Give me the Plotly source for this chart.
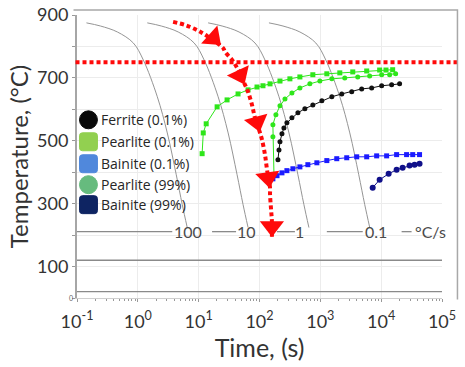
import math
import plotly.graph_objects as go

# ---------------- data ----------------
# cooling curves (time in s, temperature in °C)
cool_T = [875, 865, 846, 811, 757, 640, 525, 392, 297, 224]
cool_t_100 = [0.143, 0.243, 0.461, 0.843, 1.23, 2.09, 3.05, 4.28, 5.37, 6.49]
cool_t_10 = [1.43, 2.43, 4.61, 8.43, 12.3, 20.9, 30.5, 42.8, 53.7, 64.9]
cool_t_1 = [14.3, 24.3, 46.1, 84.3, 123, 209, 305, 428, 537, 649]
cool_t_01 = [143, 243, 461, 843, 1230, 2090, 3050, 4280, 5370, 6490]

rate_labels = ["100", "10", "1", "0.1", "°C/s"]
rate_label_t = [6.7, 60, 460, 8100, 65000]
rate_label_T = 211
rate_line_t = [0.1, 3.68, None, 16.6, 41.2, None, 194, 382, None, 1279, 4977, None, 21680, 31620]
rate_line_T = [211, 211, None, 211, 211, None, 211, 211, None, 211, 211, None, 211, 211]

low_lines_T = [120, 20]
time_span = [0.1, 100000]

# transformation start curves
pearlite01_t = [11.4, 11.9, 13.3, 20.1, 29.3, 44.4, 64.8, 91, 114, 149, 217, 316, 461, 753, 1279,
                2089, 3412, 5781, 9441, 12000, 15450]
pearlite01_T = [459, 525, 554, 608, 630, 649, 662, 671, 675, 681, 690, 697, 703, 710, 713,
                716, 719, 722, 725, 725, 726]

pearlite99_t = [173, 166, 166, 186, 217, 262, 341, 461, 673, 982, 1545, 2523, 4120, 6471, 10190,
                13770, 17290]
pearlite99_T = [392, 513, 551, 583, 611, 633, 652, 668, 681, 690, 697, 700, 703, 706, 710,
                710, 713]

ferrite01_t = [201, 209, 217, 234, 252, 282, 341, 428, 557, 753, 1059, 1545, 2251, 3283, 4783,
               6979, 10190, 14860, 20090]
ferrite01_T = [440, 471, 497, 522, 541, 557, 573, 589, 602, 614, 627, 640, 649, 656, 665,
               668, 675, 678, 681]

bainite01_t = [166, 194, 234, 282, 354, 461, 624, 877, 1279, 1862, 2716, 3963, 5781, 8433, 12300,
               17950, 26180, 33000, 42760]
bainite01_T = [379, 389, 398, 405, 411, 417, 424, 430, 437, 443, 446, 449, 449, 452, 452,
               456, 456, 456, 456]

bainite99_t = [7256, 9441, 13270, 17950, 22510, 29310, 35400, 42760]
bainite99_T = [351, 376, 395, 408, 414, 421, 424, 427]

# red cooling path with arrows
path_t = [3.8, 6.0, 9.4, 13.8, 25.2, 27.2, 35.4, 42.8, 57.8, 64.7, 75.3, 84.3, 102, 110, 123,
          133, 149, 149, 155, 160, 160]
path_T = [878, 868, 852, 833, 795, 783, 757, 732, 678, 656, 614, 573, 525, 503, 456,
          408, 350, 329, 281, 243, 195]
arrow_t = [17.3, 47.9, 91, 138, 160]
arrow_T = [827, 709, 560, 383, 227]
arrow_angle = [-48, -25, -15, -8, 0]

A1_T = 750

legend_labels = ["Ferrite (0.1%)", "Pearlite (0.1%)", "Bainite (0.1%)", "Pearlite (99%)", "Bainite (99%)"]

x_tickvals = [0.1, 1, 10, 100, 1000, 10000, 100000]
x_ticktext = ["10<sup>-1</sup>", "10<sup>0</sup>", "10<sup>1</sup>", "10<sup>2</sup>",
              "10<sup>3</sup>", "10<sup>4</sup>", "10<sup>5</sup>"]
y_tickvals = [100, 300, 500, 700, 900]
y_ticktext = ["100", "300", "500", "700", "900"]

# ---------------- layout geometry ----------------
W, H = 465, 367
L, R = 76.5, 442.5     # plot area pixel edges
T_PX, B_PX = 15, 298.5
PW, PH = R - L, B_PX - T_PX


def px(x):
    return (x - L) / PW


def py(y):
    return (B_PX - y) / PH


def rounded_rect(cx, cy, s, r):
    x0, x1, y0, y1 = cx - s, cx + s, cy - s, cy + s
    pts = [
        f"M {px(x0 + r)},{py(y0)}",
        f"L {px(x1 - r)},{py(y0)}",
        f"Q {px(x1)},{py(y0)} {px(x1)},{py(y0 + r)}",
        f"L {px(x1)},{py(y1 - r)}",
        f"Q {px(x1)},{py(y1)} {px(x1 - r)},{py(y1)}",
        f"L {px(x0 + r)},{py(y1)}",
        f"Q {px(x0)},{py(y1)} {px(x0)},{py(y1 - r)}",
        f"L {px(x0)},{py(y0 + r)}",
        f"Q {px(x0)},{py(y0)} {px(x0 + r)},{py(y0)} Z",
    ]
    return " ".join(pts)


FONT = "Lato"
fig = go.Figure()

gray = "#959595"
for ct in [cool_t_100, cool_t_10, cool_t_1, cool_t_01]:
    fig.add_trace(go.Scatter(x=ct, y=cool_T, mode="lines", line=dict(color=gray, width=1, shape="spline"),
                             showlegend=False, hoverinfo="skip"))

fig.add_trace(go.Scatter(x=rate_line_t, y=rate_line_T, mode="lines", line=dict(color="#8a8a8a", width=1.3),
                         showlegend=False, hoverinfo="skip"))
for lt in low_lines_T:
    fig.add_trace(go.Scatter(x=time_span, y=[lt, lt], mode="lines", line=dict(color="#8a8a8a", width=1.3),
                             showlegend=False, hoverinfo="skip"))

series = [
    (pearlite01_t, pearlite01_T, "#2ee61a", "square", 5),
    (pearlite99_t, pearlite99_T, "#2ee61a", "circle", 5),
    (ferrite01_t, ferrite01_T, "#111111", "circle", 5),
    (bainite01_t, bainite01_T, "#1b1bff", "square", 5),
    (bainite99_t, bainite99_T, "#10108a", "circle", 6),
]
for st, sT, col, sym, sz in series:
    fig.add_trace(go.Scatter(x=st, y=sT, mode="lines+markers",
                             line=dict(color=col, width=1),
                             marker=dict(color=col, symbol=sym, size=sz, line=dict(width=0)),
                             showlegend=False, hoverinfo="skip"))

red = "#ff0a0a"
fig.add_trace(go.Scatter(x=path_t, y=path_T, mode="lines",
                         line=dict(color=red, width=4, dash="4px,3px", shape="spline"),
                         showlegend=False, hoverinfo="skip"))
fig.add_trace(go.Scatter(x=arrow_t, y=arrow_T, mode="markers",
                         marker=dict(color=red, symbol="triangle-down", size=21, angle=arrow_angle,
                                     line=dict(width=0)),
                         showlegend=False, hoverinfo="skip"))

shapes = []
# red horizontal dotted line
shapes.append(dict(type="line", xref="paper", yref="y", x0=px(75), x1=px(458), y0=A1_T, y1=A1_T,
                   line=dict(color=red, width=4, dash="4px,3px")))
# frame (top + right)
shapes.append(dict(type="path", xref="paper", yref="paper",
                   path=f"M {px(73)},{py(10)} L {px(458)},{py(10)} L {px(458)},{py(300)}",
                   line=dict(color="#a8a8a8", width=1.5)))

# manual legend
leg_y = [120, 142, 164, 185, 205]
leg_cols = ["#0a0a0a", "#92d050", "#5088dc", "#66bb7e", "#0e2462"]
leg_shape = ["circle", "rect", "rect", "circle", "rect"]
annotations = []
for lab, yy, col, shp in zip(legend_labels, leg_y, leg_cols, leg_shape):
    s = 9
    if shp == "circle":
        shapes.append(dict(type="circle", xref="paper", yref="paper",
                           x0=px(88 - s), x1=px(88 + s), y0=py(yy + s), y1=py(yy - s),
                           fillcolor=col, line=dict(color=col, width=1)))
    else:
        shapes.append(dict(type="path", xref="paper", yref="paper", path=rounded_rect(88, yy, s, 3),
                           fillcolor=col, line=dict(color=col, width=1)))
    annotations.append(dict(text=lab, xref="paper", yref="paper", x=px(99), y=py(yy),
                            xanchor="left", yanchor="middle", showarrow=False,
                            font=dict(family="Open Sans", size=14, color="#262626")))

for lab, lt in zip(rate_labels, rate_label_t):
    annotations.append(dict(text=lab, x=math.log10(lt), y=rate_label_T, xref="x", yref="y",
                            showarrow=False, xanchor="center", yanchor="middle",
                            font=dict(family=FONT, size=16, color="#4a4a4a")))

annotations.append(dict(text="0", xref="paper", yref="paper", x=px(70), y=py(298), showarrow=False,
                        xanchor="center", yanchor="middle", font=dict(family=FONT, size=7, color="#666")))

fig.update_layout(
    width=W, height=H,
    margin=dict(l=L, r=W - R, t=T_PX, b=H - B_PX, autoexpand=False),
    paper_bgcolor="white", plot_bgcolor="white",
    shapes=shapes, annotations=annotations, showlegend=False,
    font=dict(family=FONT, color="#333"),
)
fig.update_xaxes(type="log", range=[-1, 5], tickmode="array", tickvals=x_tickvals, ticktext=x_ticktext,
                 showgrid=True, gridcolor="#ececec", gridwidth=1,
                 showline=True, linecolor="#cfcfcf", linewidth=1,
                 ticks="outside", ticklen=3, tickcolor="#999",
                 minor=dict(ticks="outside", ticklen=2, tickcolor="#999", dtick="D1", showgrid=False),
                 tickfont=dict(family=FONT, size=18, color="#333"), ticklabelstandoff=4,
                 title=dict(text="Time, (s)", font=dict(family=FONT, size=25, color="#333"), standoff=4),
                 zeroline=False)
fig.update_yaxes(range=[0, 900], tickmode="array", tickvals=y_tickvals, ticktext=y_ticktext,
                 showgrid=True, gridcolor="#ececec", gridwidth=1,
                 showline=True, linecolor="#a6a6a6", linewidth=2,
                 ticks="outside", ticklen=3, tickcolor="#999",
                 minor=dict(tickmode="linear", tick0=0, dtick=100, ticks="outside", ticklen=3,
                            tickcolor="#999", showgrid=True, gridcolor="#ececec", gridwidth=1),
                 tickfont=dict(family=FONT, size=18, color="#333"),
                 title=dict(text="Temperature, (°C)", font=dict(family=FONT, size=24, color="#333"), standoff=2),
                 zeroline=False)

fig.write_html("out.html")
